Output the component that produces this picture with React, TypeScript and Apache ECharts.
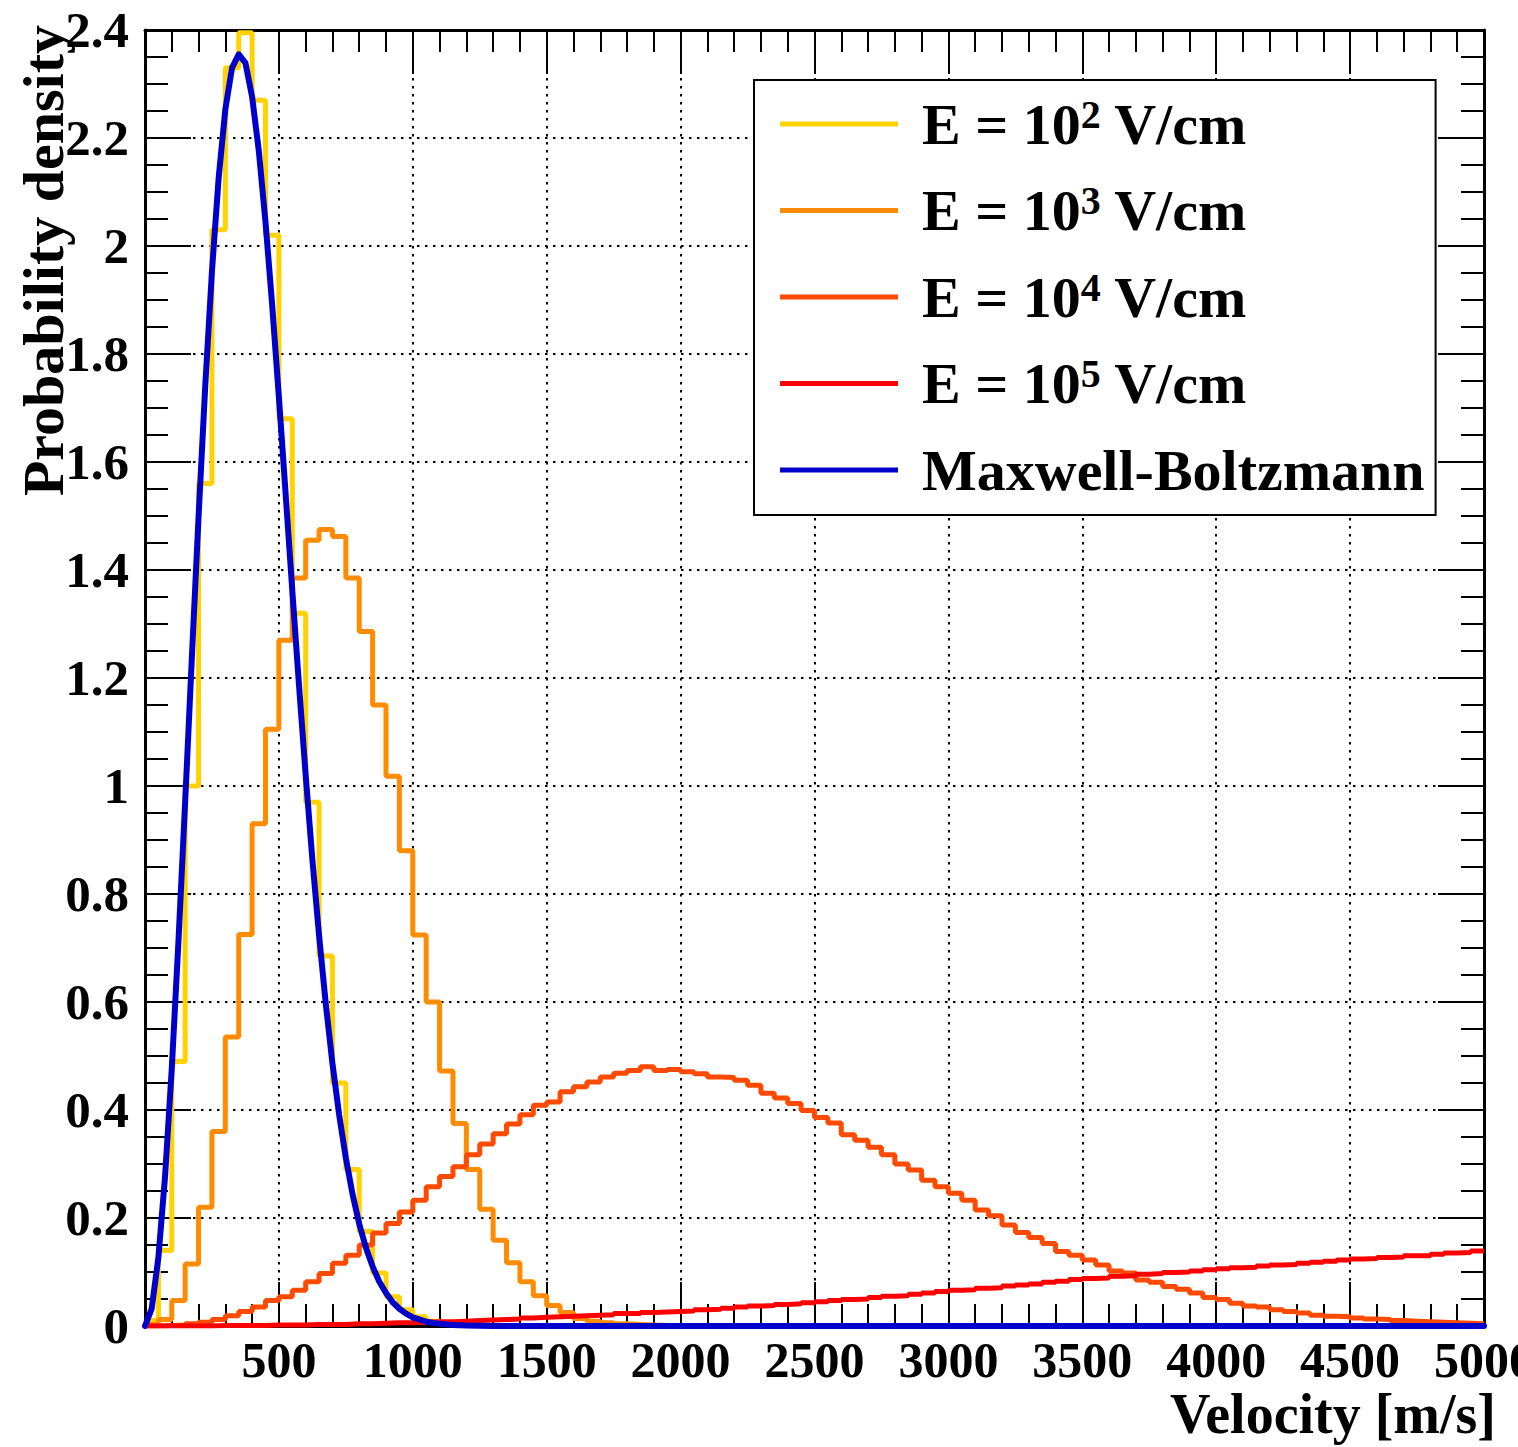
import React, { useEffect, useRef } from 'react';
import * as echarts from 'echarts';

const FONT = 'Liberation Serif';

// Histogram bin width (m/s); bins start at 0
const binWidth = 50;

// E = 10^2 V/cm (per bin, 1e-3 per m/s)
const e2Density = [
  0.010, 0.140, 0.490, 1.000, 1.560, 2.030, 2.330, 2.395, 2.270, 2.020,
  1.680, 1.320, 0.970, 0.685, 0.450, 0.290, 0.175, 0.098, 0.054, 0.030,
  0.017, 0.009, 0.005, 0.003, 0.001, 0.000, 0.000, 0.000, 0.000, 0.000,
  0.000, 0.000, 0.000, 0.000, 0.000, 0.000, 0.000, 0.000, 0.000, 0.000,
  0.000, 0.000, 0.000, 0.000, 0.000, 0.000, 0.000, 0.000, 0.000, 0.000,
  0.000, 0.000, 0.000, 0.000, 0.000, 0.000, 0.000, 0.000, 0.000, 0.000,
  0.000, 0.000, 0.000, 0.000, 0.000, 0.000, 0.000, 0.000, 0.000, 0.000,
  0.000, 0.000, 0.000, 0.000, 0.000, 0.000, 0.000, 0.000, 0.000, 0.000,
  0.000, 0.000, 0.000, 0.000, 0.000, 0.000, 0.000, 0.000, 0.000, 0.000,
  0.000, 0.000, 0.000, 0.000, 0.000, 0.000, 0.000, 0.000, 0.000, 0.000,
];

// E = 10^3 V/cm
const e3Density = [
  0.003, 0.012, 0.047, 0.115, 0.220, 0.360, 0.535, 0.725, 0.930, 1.105,
  1.270, 1.385, 1.455, 1.475, 1.462, 1.385, 1.286, 1.150, 1.018, 0.880,
  0.724, 0.600, 0.472, 0.375, 0.290, 0.216, 0.159, 0.117, 0.082, 0.056,
  0.038, 0.025, 0.014, 0.009, 0.006, 0.004, 0.003, 0.002, 0.001, 0.001,
  0.000, 0.000, 0.000, 0.000, 0.000, 0.000, 0.000, 0.000, 0.000, 0.000,
  0.000, 0.000, 0.000, 0.000, 0.000, 0.000, 0.000, 0.000, 0.000, 0.000,
  0.000, 0.000, 0.000, 0.000, 0.000, 0.000, 0.000, 0.000, 0.000, 0.000,
  0.000, 0.000, 0.000, 0.000, 0.000, 0.000, 0.000, 0.000, 0.000, 0.000,
  0.000, 0.000, 0.000, 0.000, 0.000, 0.000, 0.000, 0.000, 0.000, 0.000,
  0.000, 0.000, 0.000, 0.000, 0.000, 0.000, 0.000, 0.000, 0.000, 0.000,
];

// E = 10^4 V/cm
const e4Density = [
  0.000, 0.001, 0.002, 0.004, 0.007, 0.012, 0.019, 0.027, 0.035, 0.047,
  0.054, 0.066, 0.082, 0.097, 0.116, 0.131, 0.150, 0.172, 0.190, 0.211,
  0.233, 0.258, 0.277, 0.295, 0.317, 0.337, 0.356, 0.374, 0.391, 0.409,
  0.415, 0.434, 0.443, 0.452, 0.461, 0.468, 0.473, 0.480, 0.473, 0.475,
  0.471, 0.467, 0.461, 0.460, 0.455, 0.446, 0.431, 0.422, 0.412, 0.399,
  0.386, 0.376, 0.354, 0.344, 0.331, 0.317, 0.300, 0.289, 0.270, 0.258,
  0.246, 0.233, 0.215, 0.204, 0.187, 0.173, 0.164, 0.153, 0.138, 0.131,
  0.122, 0.113, 0.102, 0.098, 0.085, 0.081, 0.073, 0.068, 0.061, 0.053,
  0.049, 0.042, 0.037, 0.035, 0.030, 0.027, 0.024, 0.020, 0.018, 0.017,
  0.015, 0.013, 0.012, 0.010, 0.009, 0.008, 0.007, 0.006, 0.005, 0.004,
];

// E = 10^5 V/cm
const e5Density = [
  0.000, 0.000, 0.000, 0.000, 0.000, 0.001, 0.001, 0.001, 0.001, 0.002,
  0.002, 0.002, 0.003, 0.003, 0.003, 0.004, 0.004, 0.005, 0.006, 0.006,
  0.007, 0.008, 0.008, 0.009, 0.010, 0.011, 0.012, 0.013, 0.015, 0.016,
  0.017, 0.018, 0.019, 0.020, 0.021, 0.023, 0.023, 0.025, 0.026, 0.027,
  0.028, 0.030, 0.031, 0.033, 0.035, 0.037, 0.038, 0.040, 0.041, 0.043,
  0.045, 0.047, 0.049, 0.050, 0.053, 0.055, 0.056, 0.059, 0.061, 0.064,
  0.066, 0.067, 0.070, 0.071, 0.074, 0.076, 0.078, 0.081, 0.083, 0.086,
  0.088, 0.089, 0.092, 0.093, 0.096, 0.097, 0.099, 0.100, 0.102, 0.104,
  0.106, 0.108, 0.109, 0.111, 0.113, 0.114, 0.116, 0.118, 0.120, 0.122,
  0.124, 0.125, 0.127, 0.128, 0.130, 0.130, 0.133, 0.135, 0.136, 0.139,
];

// Maxwell-Boltzmann curve, read along the velocity axis
const mbVelocity = [
  0, 25, 50, 75, 100, 125, 150, 175, 200, 225, 250, 275, 300, 325, 350, 375,
  400, 425, 450, 475, 500, 525, 550, 575, 600, 625, 650, 675, 700, 725, 750,
  775, 800, 825, 850, 875, 900, 925, 950, 975, 1000, 1050, 1100, 1150, 1200,
  1300, 5000,
];
const mbDensity = [
  0, 0.032, 0.127, 0.278, 0.477, 0.713, 0.971, 1.238, 1.499, 1.741, 1.953,
  2.126, 2.253, 2.330, 2.355, 2.339, 2.276, 2.176, 2.044, 1.890, 1.720,
  1.542, 1.362, 1.187, 1.020, 0.864, 0.723, 0.597, 0.486, 0.391, 0.311,
  0.244, 0.189, 0.145, 0.110, 0.082, 0.061, 0.044, 0.032, 0.023, 0.016,
  0.008, 0.004, 0.002, 0.001, 0.0001, 0,
];

const seriesNames = [
  'E = 10^2 V/cm',
  'E = 10^3 V/cm',
  'E = 10^4 V/cm',
  'E = 10^5 V/cm',
  'Maxwell-Boltzmann',
];
const seriesColors = ['#FFD200', '#FF8C00', '#FF4A00', '#FF0000', '#0000CC'];

const xMin = 0;
const xMax = 5000;
const xInterval = 500;
const yMin = 0;
const yMax = 2.4;
const yInterval = 0.2;

function histData(values: number[]) {
  const pts: number[][] = values.map((v, k) => [k * binWidth, v]);
  pts.push([values.length * binWidth, values[values.length - 1]]);
  return pts;
}

function buildOption() {
  const tickStyle = { color: '#000', width: 2 };
  const labelFont = { fontFamily: FONT, fontWeight: 'bold' as const, fontSize: 51, color: '#000' };
  const baseX = {
    type: 'value' as const,
    min: xMin,
    max: xMax,
    interval: xInterval,
    axisLine: { show: true, onZero: false, lineStyle: { color: '#000', width: 3 } },
    axisTick: { show: true, inside: true, length: 44, lineStyle: tickStyle },
    minorTick: { show: true, splitNumber: 5, length: 22, lineStyle: tickStyle },
  };
  const baseY = {
    type: 'value' as const,
    min: yMin,
    max: yMax,
    interval: yInterval,
    axisLine: { show: true, onZero: false, lineStyle: { color: '#000', width: 3 } },
    axisTick: { show: true, inside: true, length: 46, lineStyle: tickStyle },
    minorTick: { show: true, splitNumber: 4, length: 23, lineStyle: tickStyle },
  };
  const gridLine = { show: true, lineStyle: { color: '#000', width: 2, type: [2.5, 5.5] as number[] } };

  const histSets = [e2Density, e3Density, e4Density, e5Density];
  const series: any[] = histSets.map((vals, i) => ({
    type: 'line',
    name: seriesNames[i],
    data: histData(vals),
    step: 'end',
    symbol: 'none',
    showSymbol: false,
    clip: true,
    lineStyle: { width: 5, color: seriesColors[i] },
    itemStyle: { color: seriesColors[i] },
    z: 3 + i,
  }));
  series.push({
    type: 'line',
    name: seriesNames[4],
    data: mbVelocity.map((v, i) => [v, mbDensity[i]]),
    symbol: 'none',
    showSymbol: false,
    clip: true,
    lineStyle: { width: 6, color: seriesColors[4], join: 'round', cap: 'round' },
    itemStyle: { color: seriesColors[4] },
    z: 8,
  });

  return {
    animation: false,
    backgroundColor: '#fff',
    textStyle: { fontFamily: FONT },
    grid: {
      left: 145,
      top: 30,
      width: 1339,
      height: 1296,
      containLabel: false,
      outerBoundsMode: 'none',
    },
    xAxis: [
      {
        ...baseX,
        position: 'bottom',
        splitLine: gridLine,
        axisLabel: {
          ...labelFont,
          fontSize: 50,
          margin: 9,
          showMinLabel: false,
          formatter: (v: number) => String(Math.round(v)),
        },
      },
      {
        ...baseX,
        position: 'top',
        splitLine: { show: false },
        axisLabel: { show: false },
      },
    ],
    yAxis: [
      {
        ...baseY,
        position: 'left',
        splitLine: gridLine,
        axisLabel: {
          ...labelFont,
          margin: 16,
          formatter: (v: number) => String(Number(v.toFixed(1))),
        },
      },
      {
        ...baseY,
        position: 'right',
        splitLine: { show: false },
        axisLabel: { show: false },
      },
    ],
    legend: {
      orient: 'vertical',
      left: 754,
      top: 80,
      padding: [14, 11, 15, 26],
      itemWidth: 118,
      itemHeight: 5,
      itemGap: 26.5,
      icon: 'rect',
      selectedMode: false,
      backgroundColor: '#fff',
      borderColor: '#000',
      borderWidth: 2,
      data: seriesNames,
      formatter: (name: string) => '{g| }' + name.replace(/\^(\d)/, '{sup|$1}'),
      textStyle: {
        fontFamily: FONT,
        fontWeight: 'bold',
        fontSize: 58,
        lineHeight: 60,
        color: '#000',
        rich: {
          g: { width: 19, fontSize: 58, lineHeight: 60, fontFamily: FONT },
          sup: {
            fontSize: 40,
            lineHeight: 24,
            verticalAlign: 'top',
            fontWeight: 'bold',
            fontFamily: FONT,
            color: '#000',
          },
        },
      },
    },
    graphic: [
      {
        type: 'text',
        x: 1496,
        y: 1414,
        style: {
          text: 'Velocity [m/s]',
          font: `bold 56px "${FONT}"`,
          fill: '#000',
          align: 'right',
          verticalAlign: 'middle',
        },
      },
      {
        type: 'text',
        x: 43,
        y: 25,
        rotation: Math.PI / 2,
        style: {
          text: 'Probability density',
          font: `bold 58px "${FONT}"`,
          fill: '#000',
          align: 'right',
          verticalAlign: 'middle',
        },
      },
    ],
    series,
  };
}

export default function App() {
  const ref = useRef<HTMLDivElement>(null);
  useEffect(() => {
    if (!ref.current) return;
    const chart = echarts.init(ref.current, undefined, { renderer: 'svg' });
    chart.setOption(buildOption() as any);
    return () => chart.dispose();
  }, []);
  return (
    <div
      ref={ref}
      style={{ position: 'fixed', left: 0, top: 0, width: 1518, height: 1447, background: '#fff' }}
    />
  );
}
